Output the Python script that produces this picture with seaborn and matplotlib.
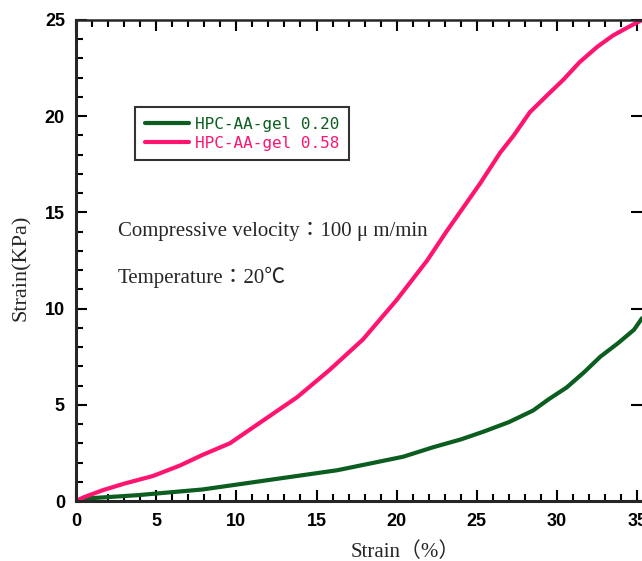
import pandas as pd
import matplotlib
matplotlib.use("Agg")
import matplotlib.pyplot as plt
from matplotlib.ticker import MultipleLocator
import seaborn as sns

# values
strain_020 = [0, 1.0, 3.8, 7.9, 12.1, 16.3, 20.4, 22.3, 24.0, 25.4, 27.0, 28.5, 29.5, 30.6, 31.7, 32.7, 33.8, 34.8, 35.3]
stress_020 = [0, 0.15, 0.3, 0.6, 1.1, 1.6, 2.3, 2.8, 3.2, 3.6, 4.1, 4.7, 5.3, 5.9, 6.7, 7.5, 8.2, 8.9, 9.5]
strain_058 = [0, 0.5, 1.7, 3.0, 4.8, 6.5, 7.9, 9.6, 11.7, 13.8, 15.8, 17.9, 20.0, 21.9, 23.1, 25.2,
              26.45, 27.3, 28.3, 29.4, 30.4, 31.4, 32.5, 33.5, 34.6, 35.3]
stress_058 = [0, 0.2, 0.57, 0.9, 1.3, 1.85, 2.4, 3.0, 4.2, 5.4, 6.8, 8.4, 10.45, 12.5, 14.0, 16.5,
              18.1, 19.0, 20.2, 21.1, 21.9, 22.8, 23.6, 24.2, 24.7, 25.0]
labels = ["HPC-AA-gel 0.20", "HPC-AA-gel 0.58"]
colors = ["#0b5e1f", "#ff1570"]

df = pd.concat([
    pd.DataFrame({"strain": strain_020, "stress": stress_020, "sample": labels[0]}),
    pd.DataFrame({"strain": strain_058, "stress": stress_058, "sample": labels[1]}),
])

sns.set_style("ticks")
plt.rcParams["font.family"] = ["Liberation Serif", "Noto Sans CJK JP", "DejaVu Sans"]

fig = plt.figure(figsize=(6.42, 5.61), dpi=100)
ax = fig.add_axes([76 / 642, 60 / 561, 566 / 642, 481 / 561])

sns.lineplot(data=df, x="strain", y="stress", hue="sample", palette=colors,
             linewidth=3, ax=ax, sort=False, estimator=None)

ax.set_xlim(0, 35.3)
ax.set_ylim(0, 25)
ax.xaxis.set_major_locator(MultipleLocator(5))
ax.xaxis.set_minor_locator(MultipleLocator(1))
ax.yaxis.set_major_locator(MultipleLocator(5))
ax.yaxis.set_minor_locator(MultipleLocator(1))
ax.tick_params(which="both", direction="in", top=True, right=True, width=1.5, colors="black")
ax.tick_params(which="minor", axis="y", right=False)
ax.tick_params(which="major", length=8)
ax.tick_params(which="minor", length=5)
for lab in ax.get_xticklabels() + ax.get_yticklabels():
    lab.set_family(["Liberation Sans Narrow", "Liberation Sans", "DejaVu Sans"])
    lab.set_fontweight("bold")
    lab.set_fontsize(13)
ax.tick_params(axis="x", pad=9)
ax.tick_params(axis="y", pad=8)

for side in ["left", "bottom"]:
    ax.spines[side].set_linewidth(2.2)
ax.spines["top"].set_visible(True)
ax.spines["top"].set_linewidth(1.8)
ax.spines["right"].set_visible(False)

ax.set_xlabel("Strain（%）", fontsize=15)
ax.xaxis.set_label_coords((405 - 76) / 566, -0.085)
ax.set_ylabel("Strain(KPa)", fontsize=16)
ax.yaxis.set_label_coords(-(76 - 31) / 566, (501 - 268) / 481)

ax.text(2.62, 14.0, "Compressive velocity：100 μ m/min", fontsize=15, va="center")
ax.text(2.62, 11.6, "Temperature：20℃", fontsize=15, va="center")

leg = ax.legend(loc="upper left", bbox_to_anchor=(59 / 566, 394 / 481), borderaxespad=0,
                frameon=True, fancybox=False, edgecolor="black", labelcolor="linecolor",
                handlelength=2.8, handletextpad=0.35, borderpad=0.6, labelspacing=0.25,
                prop={"family": "DejaVu Sans Mono", "size": 11.5}, title=None)
leg.get_frame().set_linewidth(1.5)
for line in leg.get_lines():
    line.set_linewidth(3)

fig.savefig("out.png", dpi=100)
